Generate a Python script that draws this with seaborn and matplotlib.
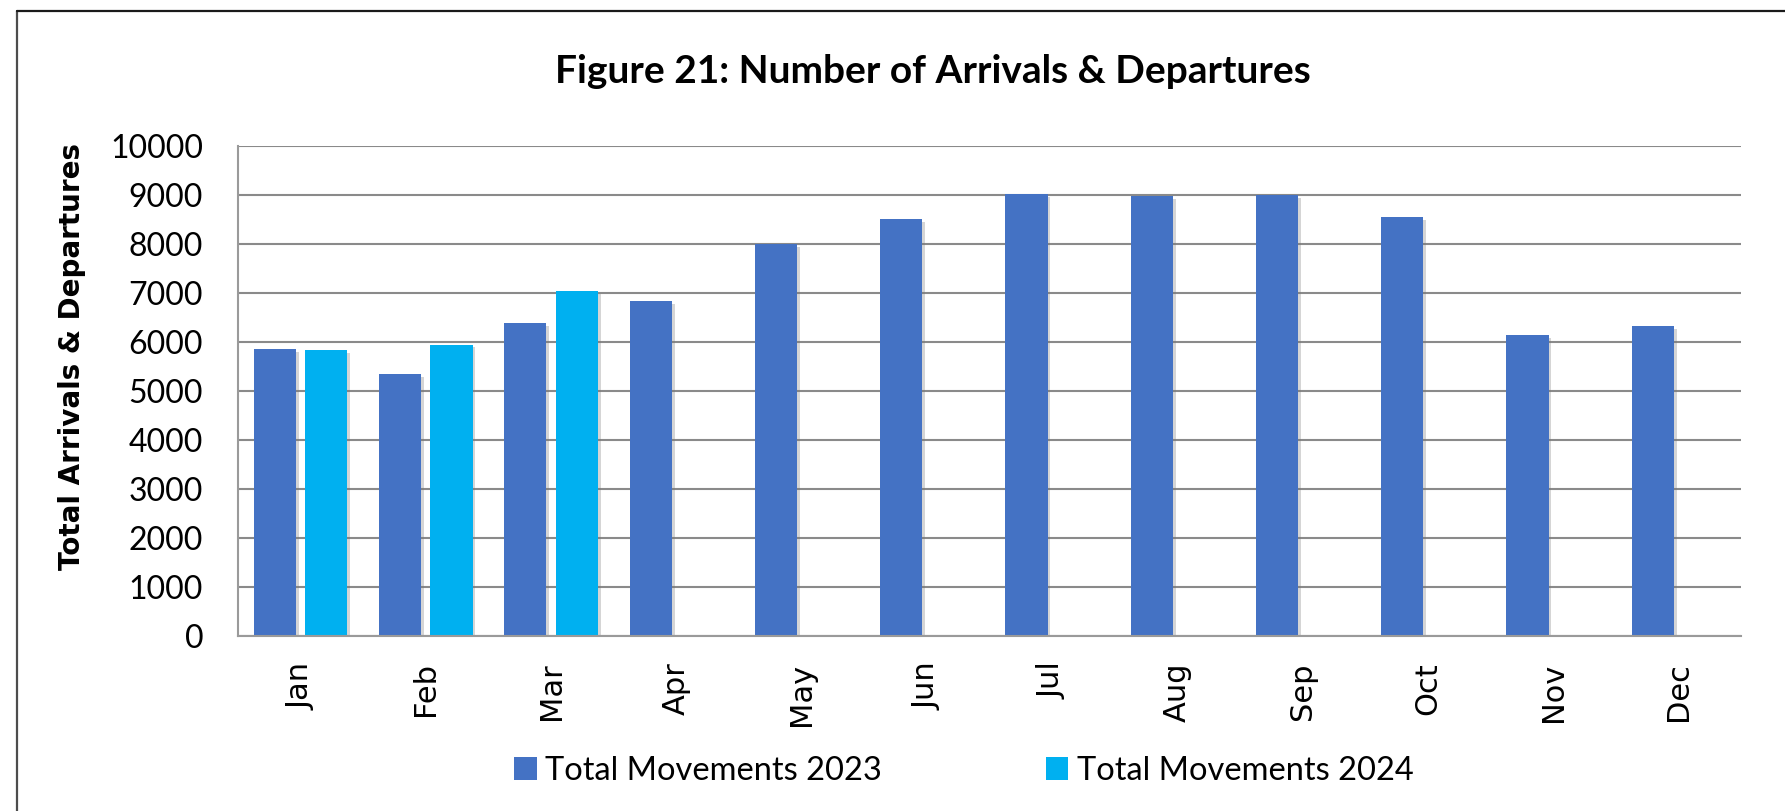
import numpy as np
import pandas as pd
import matplotlib
matplotlib.use("Agg")
import matplotlib.pyplot as plt
import matplotlib.patheffects as pe
from matplotlib.lines import Line2D
import seaborn as sns

# Chart data
months = ['Jan', 'Feb', 'Mar', 'Apr', 'May', 'Jun',
          'Jul', 'Aug', 'Sep', 'Oct', 'Nov', 'Dec']
movements_2023 = [5860, 5340, 6380, 6830, 7990, 8500,
                  9010, 8980, 9000, 8550, 6140, 6330]
movements_2024 = [5840, 5945, 7040, np.nan, np.nan, np.nan,
                  np.nan, np.nan, np.nan, np.nan, np.nan, np.nan]
series_names = ['Total Movements 2023', 'Total Movements 2024']
y_ticks = [0, 1000, 2000, 3000, 4000, 5000, 6000, 7000, 8000, 9000, 10000]

df = pd.DataFrame({
    'month': months * 2,
    'series': [series_names[0]] * 12 + [series_names[1]] * 12,
    'value': movements_2023 + movements_2024,
})

sns.set_style('white')
plt.rcParams['font.family'] = ['Lato', 'DejaVu Sans']
plt.rcParams['text.color'] = 'black'
plt.rcParams['axes.labelcolor'] = 'black'
plt.rcParams['xtick.color'] = 'black'
plt.rcParams['ytick.color'] = 'black'

fig = plt.figure(figsize=(17.85, 8.11), dpi=100)
ax = fig.add_axes([0.1333, 0.2158, 0.9754 - 0.1333, 0.82 - 0.2158])

sns.barplot(data=df, x='month', y='value', hue='series', order=months,
            hue_order=series_names, palette=['#4472C4', '#00B0F0'],
            errorbar=None, width=0.82, gap=0.18, saturation=1, ax=ax,
            linewidth=0)

# soft grey shadow behind bars
for p in ax.patches:
    p.set_path_effects([pe.SimplePatchShadow(offset=(2, -2), shadow_rgbFace='#777777',
                                             alpha=0.3),
                        pe.Normal()])

ax.set_ylim(0, 10000)
ax.set_xlim(-0.5, 11.5)
ax.set_yticks(y_ticks)
ax.set_yticklabels([str(t) for t in y_ticks], fontsize=23)
ax.tick_params(axis='y', length=0, pad=25)
ax.tick_params(axis='x', length=0, pad=19)
for lbl in ax.get_xticklabels():
    lbl.set_rotation(90)
    lbl.set_fontsize(22)
    lbl.set_family('DejaVu Sans')

ax.yaxis.grid(True, color='#8a8a8a', linewidth=1.5)
ax.set_axisbelow(True)
for side in ['top', 'right']:
    ax.spines[side].set_visible(False)
ax.spines['left'].set_color('#9a9a9a')
ax.spines['left'].set_linewidth(1.5)
ax.spines['bottom'].set_color('#9a9a9a')
ax.spines['bottom'].set_linewidth(1.5)

ax.set_xlabel('')
ax.set_ylabel('Total Arrivals & Departures', fontsize=20, fontweight='bold',
              family='DejaVu Sans')
ax.yaxis.set_label_coords(-0.101, 0.571)

fig.text(0.5227, 0.8977, 'Figure 21: Number of Arrivals & Departures',
         ha='center', va='baseline', fontsize=28, fontweight='bold')

sns.move_legend(ax, 'center', bbox_to_anchor=(0.540, 0.049),
                bbox_transform=fig.transFigure, ncol=2, frameon=False,
                title=None, fontsize=23.5, handlelength=0.7, handleheight=0.7,
                handletextpad=0.27, columnspacing=5.0)

# outer chart border (left and top edges visible)
fig.add_artist(Line2D([0.0095, 0.0095], [0, 0.986], color='#4d4d4d',
                      linewidth=1.6, transform=fig.transFigure))
fig.add_artist(Line2D([0.0095, 1.0], [0.986, 0.986], color='#1a1a1a',
                      linewidth=1.6, transform=fig.transFigure))

fig.savefig('out.png', dpi=100)
